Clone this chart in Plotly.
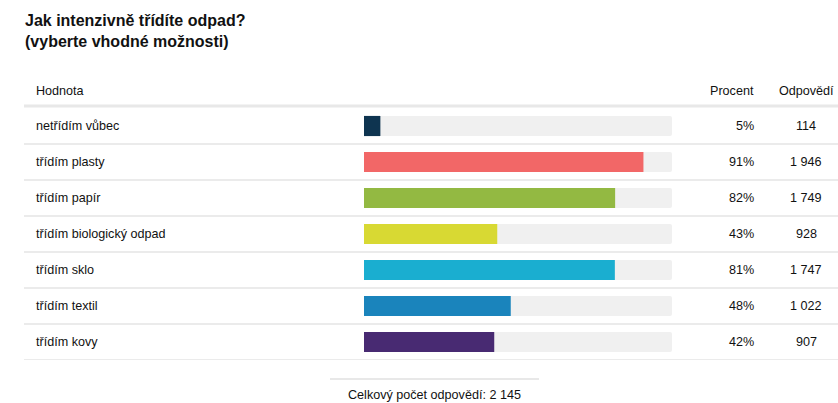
import plotly.graph_objects as go

title_lines = ["Jak intenzivně třídíte odpad?", "(vyberte vhodné možnosti)"]
categories = ["netřídím vůbec", "třídím plasty", "třídím papír", "třídím biologický odpad",
              "třídím sklo", "třídím textil", "třídím kovy"]
percent_labels = ["5%", "91%", "82%", "43%", "81%", "48%", "42%"]
counts = [114, 1946, 1749, 928, 1747, 1022, 907]
count_labels = ["114", "1 946", "1 749", "928", "1 747", "1 022", "907"]
total = 2145
total_label = "2 145"
colors = ["#0e3450", "#f26767", "#93b942", "#d8d933", "#1aaed0", "#1a84bc", "#482a72"]
header = ["Hodnota", "Procent", "Odpovědí"]

W, H = 838, 403
FONT = "Liberation Sans, Arial, sans-serif"
FS = 12.6

def px_x(x):
    return x / W

def px_y(y):
    return 1 - y / H

n = len(categories)
shares = [c / total for c in counts]

fig = go.Figure()
fig.add_trace(go.Bar(
    y=list(range(n)), x=[1] * n, orientation="h", width=0.56,
    marker=dict(color="#f0f0f0", line=dict(width=0), cornerradius=2),
    hoverinfo="skip", showlegend=False))
fig.add_trace(go.Bar(
    y=list(range(n)), x=shares, orientation="h", width=0.56,
    marker=dict(color=colors, line=dict(width=0), cornerradius=2),
    customdata=count_labels, hovertemplate="%{customdata}<extra></extra>",
    showlegend=False))

top, bottom = 108, 360
fig.update_layout(
    width=W, height=H, margin=dict(l=0, r=0, t=0, b=0),
    paper_bgcolor="white", plot_bgcolor="white", barmode="overlay",
    xaxis=dict(domain=[px_x(364), px_x(672)], range=[0, 1], visible=False, fixedrange=True),
    yaxis=dict(domain=[px_y(bottom), px_y(top)], range=[n - 0.5, -0.5], visible=False, fixedrange=True),
    font=dict(family=FONT, color="#222222"),
)

ann = []
# title
ann.append(dict(x=px_x(23), y=px_y(10), xref="paper", yref="paper", xanchor="left", yanchor="top",
                text="<b>" + title_lines[0] + "<br>" + title_lines[1] + "</b>", align="left",
                showarrow=False, font=dict(size=16, color="#111111", family=FONT)))
# header
ann.append(dict(x=px_x(34), y=px_y(91), xref="paper", yref="paper", xanchor="left", yanchor="middle",
                text=header[0], showarrow=False, font=dict(size=FS, color="#111111")))
ann.append(dict(x=px_x(756), y=px_y(91), xref="paper", yref="paper", xanchor="right", yanchor="middle",
                text=header[1], showarrow=False, font=dict(size=FS, color="#111111")))
ann.append(dict(x=px_x(806), y=px_y(91), xref="paper", yref="paper", xanchor="center", yanchor="middle",
                text=header[2], showarrow=False, font=dict(size=FS, color="#111111")))
for i in range(n):
    ann.append(dict(x=px_x(34), y=i, xref="paper", yref="y", xanchor="left", yanchor="middle",
                    text=categories[i], showarrow=False, font=dict(size=FS, color="#111111")))
    ann.append(dict(x=px_x(756), y=i, xref="paper", yref="y", xanchor="right", yanchor="middle",
                    text=percent_labels[i], showarrow=False, font=dict(size=FS, color="#111111")))
    ann.append(dict(x=px_x(806), y=i, xref="paper", yref="y", xanchor="center", yanchor="middle",
                    text=count_labels[i], showarrow=False, font=dict(size=FS, color="#111111")))
# footer
ann.append(dict(x=px_x(435), y=px_y(395), xref="paper", yref="paper", xanchor="center", yanchor="middle",
                text="Celkový počet odpovědí: " + total_label, showarrow=False,
                font=dict(size=FS, color="#111111")))
fig.update_layout(annotations=ann)

shapes = []
shapes.append(dict(type="line", xref="paper", yref="paper", x0=px_x(24), x1=1,
                   y0=px_y(106), y1=px_y(106), line=dict(color="#e8e8e8", width=3)))
for i in range(n):
    shapes.append(dict(type="line", xref="paper", yref="y", x0=px_x(24), x1=1,
                       y0=i + 0.5, y1=i + 0.5, line=dict(color="#ebebeb", width=2)))
shapes.append(dict(type="line", xref="paper", yref="paper", x0=px_x(330), x1=px_x(539),
                   y0=px_y(379), y1=px_y(379), line=dict(color="#e8e8e8", width=2)))
fig.update_layout(shapes=shapes)

fig.write_html("out.html", config={"displayModeBar": False},
               post_script="document.body.style.margin='0';document.body.style.overflow='hidden';")
